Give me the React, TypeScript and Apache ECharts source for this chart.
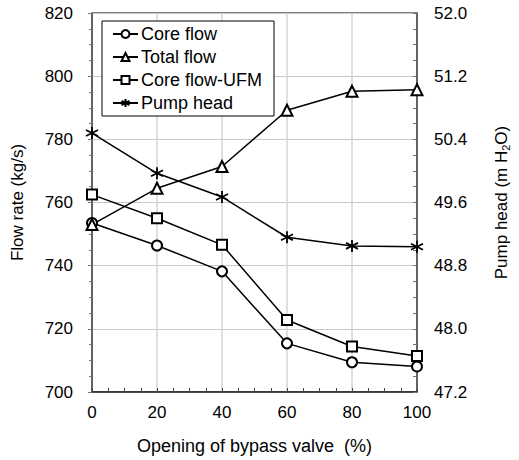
import React, { useEffect, useRef } from 'react';
import * as echarts from 'echarts';

const openings = [0, 20, 40, 60, 80, 100];
const coreFlow = [753.5, 746.4, 738.2, 715.4, 709.4, 708.1];
const totalFlow = [753.0, 764.5, 771.4, 789.2, 795.2, 795.7];
const coreFlowUFM = [762.5, 755.0, 746.6, 722.8, 714.4, 711.4];
const pumpHead = [50.48, 49.97, 49.67, 49.16, 49.05, 49.04];
const seriesNames = ['Core flow', 'Total flow', 'Core flow-UFM', 'Pump head'];

const FONT = '"Liberation Sans", Arial, sans-serif';
const STAR = 'path://M5,0L5,10M0.67,2.5L9.33,7.5M0.67,7.5L9.33,2.5';

const pairs = (ys: number[]) => openings.map((x, i) => [x, ys[i]]);

export default function App() {
  const ref = useRef<HTMLDivElement>(null);
  useEffect(() => {
    document.body.style.margin = '0';
    const chart = echarts.init(ref.current!, null, { renderer: 'svg' });
    const lineBase = {
      type: 'line' as const,
      lineStyle: { color: '#000', width: 1.5 },
      itemStyle: { color: '#000', borderColor: '#000', borderWidth: 1.3 },
      symbolSize: 10,
      z: 3,
    };
    chart.setOption({
      animation: false,
      backgroundColor: '#fff',
      textStyle: { fontFamily: FONT },
      grid: {
        left: 92, right: 93, top: 13, bottom: 66,
        show: true, borderColor: '#000', borderWidth: 1, backgroundColor: 'transparent',
      },
      legend: {
        orient: 'vertical',
        left: 102,
        top: 21,
        data: seriesNames,
        itemWidth: 25,
        itemHeight: 10,
        itemGap: 5,
        padding: [4, 12, 4, 10],
        backgroundColor: '#fff',
        borderColor: '#000',
        borderWidth: 1,
        borderRadius: 0,
        textStyle: { fontFamily: FONT, fontSize: 18, color: '#000', lineHeight: 18, padding: [0, 0, 0, -2] },
      },
      xAxis: {
        type: 'value',
        min: 0,
        max: 100,
        interval: 20,
        name: 'Opening of bypass valve  (%)',
        nameLocation: 'middle',
        nameGap: 45,
        nameTextStyle: { fontFamily: FONT, fontSize: 18, color: '#000' },
        axisLine: { show: true, lineStyle: { color: '#222', width: 1.5 } },
        axisTick: { show: true, inside: true, length: 4, lineStyle: { color: '#444' } },
        minorTick: { show: true, splitNumber: 4, length: 4, lineStyle: { color: '#444' } },
        axisLabel: { fontFamily: FONT, fontSize: 17, color: '#000', margin: 12 },
        splitLine: { show: true, lineStyle: { color: '#d4d4d4', width: 1.5 } },
      },
      yAxis: [
        {
          type: 'value',
          min: 700,
          max: 820,
          interval: 20,
          name: 'Flow rate (kg/s)',
          nameLocation: 'middle',
          nameRotate: 90,
          nameGap: 66,
          nameTextStyle: { fontFamily: FONT, fontSize: 17, color: '#000' },
          axisLine: { show: true, lineStyle: { color: '#444', width: 1.5 } },
          axisTick: { show: true, inside: false, length: 4, lineStyle: { color: '#777' } },
          minorTick: { show: true, splitNumber: 4, length: 3, lineStyle: { color: '#777' } },
          axisLabel: { fontFamily: FONT, fontSize: 17, color: '#000', margin: 19 },
          splitLine: { show: true, lineStyle: { color: '#c8c8c8', width: 1 } },
        },
        {
          type: 'value',
          min: 47.2,
          max: 52.0,
          interval: 0.8,
          position: 'right',
          name: '{a|Pump head (m H}{s|2}{a|O)}',
          nameLocation: 'middle',
          nameRotate: 90,
          nameGap: 74,
          nameTextStyle: {
            fontFamily: FONT, fontSize: 17, color: '#000',
            rich: {
              a: { fontFamily: FONT, fontSize: 17, color: '#000', lineHeight: 20 },
              s: { fontFamily: FONT, fontSize: 11, color: '#000', lineHeight: 20, verticalAlign: 'bottom', padding: [8, 0, 0, 0] },
            },
          },
          axisLine: { show: true, lineStyle: { color: '#444', width: 1.5 } },
          axisTick: { show: true, inside: true, length: 4, lineStyle: { color: '#777' } },
          minorTick: { show: true, splitNumber: 4, length: 4, lineStyle: { color: '#777' } },
          axisLabel: {
            fontFamily: FONT, fontSize: 17, color: '#000', margin: 17,
            formatter: (v: number) => v.toFixed(1),
          },
          splitLine: { show: false },
        },
      ],
      series: [
        { ...lineBase, name: seriesNames[0], symbol: 'emptyCircle', yAxisIndex: 0, data: pairs(coreFlow) },
        { ...lineBase, name: seriesNames[1], symbol: 'emptyTriangle', symbolSize: 11, yAxisIndex: 0, data: pairs(totalFlow) },
        { ...lineBase, name: seriesNames[2], symbol: 'emptyRect', symbolSize: 10, yAxisIndex: 0, data: pairs(coreFlowUFM) },
        { ...lineBase, name: seriesNames[3], symbol: STAR, symbolSize: 12, yAxisIndex: 1, data: pairs(pumpHead),
          itemStyle: { color: '#000', borderColor: '#000', borderWidth: 1.8 } },
      ],
    });
    return () => chart.dispose();
  }, []);
  return <div ref={ref} style={{ width: 519, height: 460 }} />;
}
